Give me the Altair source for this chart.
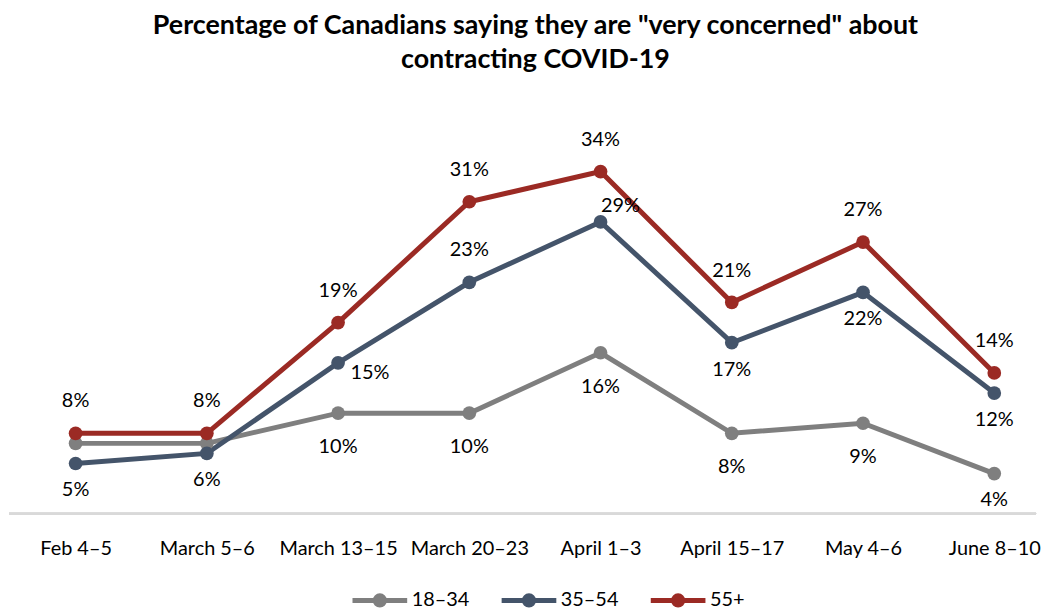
import altair as alt
import pandas as pd

periods = ["Feb 4–5", "March 5–6", "March 13–15", "March 20–23",
           "April 1–3", "April 15–17", "May 4–6", "June 8–10"]
groups = ["18–34", "35–54", "55+"]
v_18_34 = [7, 7, 10, 10, 16, 8, 9, 4]
v_35_54 = [5, 6, 15, 23, 29, 17, 22, 12]
v_55 = [8, 8, 19, 31, 34, 21, 27, 14]
# label placement relative to each point
place_18_34 = ["none", "none", "below2", "below2", "below2", "below2", "below2", "below"]
place_35_54 = ["below", "below", "belowright", "above", "aboveright", "below", "below", "below"]
place_55 = ["above"] * 8
colors = ["#7f7f7f", "#44546a", "#9b2a24"]

rows = []
for g, vals, pl in zip(groups, [v_18_34, v_35_54, v_55], [place_18_34, place_35_54, place_55]):
    for p, v, l in zip(periods, vals, pl):
        rows.append({"period": p, "group": g, "value": v, "place": l, "label": f"{v}%"})
df = pd.DataFrame(rows)

FONT = "Lato"
xenc = alt.X("period:N", sort=periods,
             scale=alt.Scale(type="point", range=[67, 991], padding=0),
             axis=alt.Axis(title=None, domain=False, ticks=False, grid=False,
                           labelFontSize=20, labelColor="#000", labelFont=FONT,
                           labelPadding=25, labelAngle=0))
yenc = alt.Y("value:Q", scale=alt.Scale(domain=[0, 40]), axis=None)

base = alt.Chart(df)

baseline = base.mark_rule(color="#d9d9d9", strokeWidth=2).encode(
    x=alt.value(0), x2=alt.value(1033), y=alt.value(405))

legend_path = "M-1,0H1M0.17,0A0.17,0.17,0,1,1,-0.17,0A0.17,0.17,0,1,1,0.17,0Z"
leg = alt.Legend(title=None, orient="none", direction="horizontal",
                 legendX=343, legendY=462, symbolType=legend_path,
                 symbolSize=3025, symbolStrokeWidth=5, labelFontSize=20,
                 labelFont=FONT, labelColor="#000", labelOffset=2,
                 columnPadding=22)

lines = base.mark_line(strokeWidth=5).encode(
    x=xenc, y=yenc,
    color=alt.Color("group:N", sort=groups,
                    scale=alt.Scale(domain=groups, range=colors), legend=leg),
    detail="group:N")

points = base.mark_point(filled=True, size=190, opacity=1).encode(
    x=xenc, y=yenc,
    color=alt.Color("group:N", sort=groups,
                    scale=alt.Scale(domain=groups, range=colors), legend=leg))

offsets = {"above": (0, -32), "below": (0, 27), "below2": (0, 34),
           "belowright": (32, 10), "aboveright": (20, -16)}
texts = []
for k, (dx, dy) in offsets.items():
    texts.append(
        base.transform_filter(alt.datum.place == k).mark_text(
            dx=dx, dy=dy, fontSize=20, font=FONT, color="#000", baseline="middle"
        ).encode(x=xenc, y=yenc, text="label:N"))

chart = alt.layer(baseline, lines, points, *texts).properties(
    width=1033, height=405,
    title=alt.TitleParams(
        ["Percentage of Canadians saying they are \"very concerned\" about",
         "contracting COVID-19"],
        fontSize=27, font=FONT, fontWeight="bold", color="#000",
        anchor="middle", dx=13, lineHeight=35, offset=37),
    padding={"left": 0, "right": 0, "top": 2, "bottom": 0},
).configure_view(stroke=None)

chart.save("out.html", embed_options={"renderer": "svg", "actions": False})
